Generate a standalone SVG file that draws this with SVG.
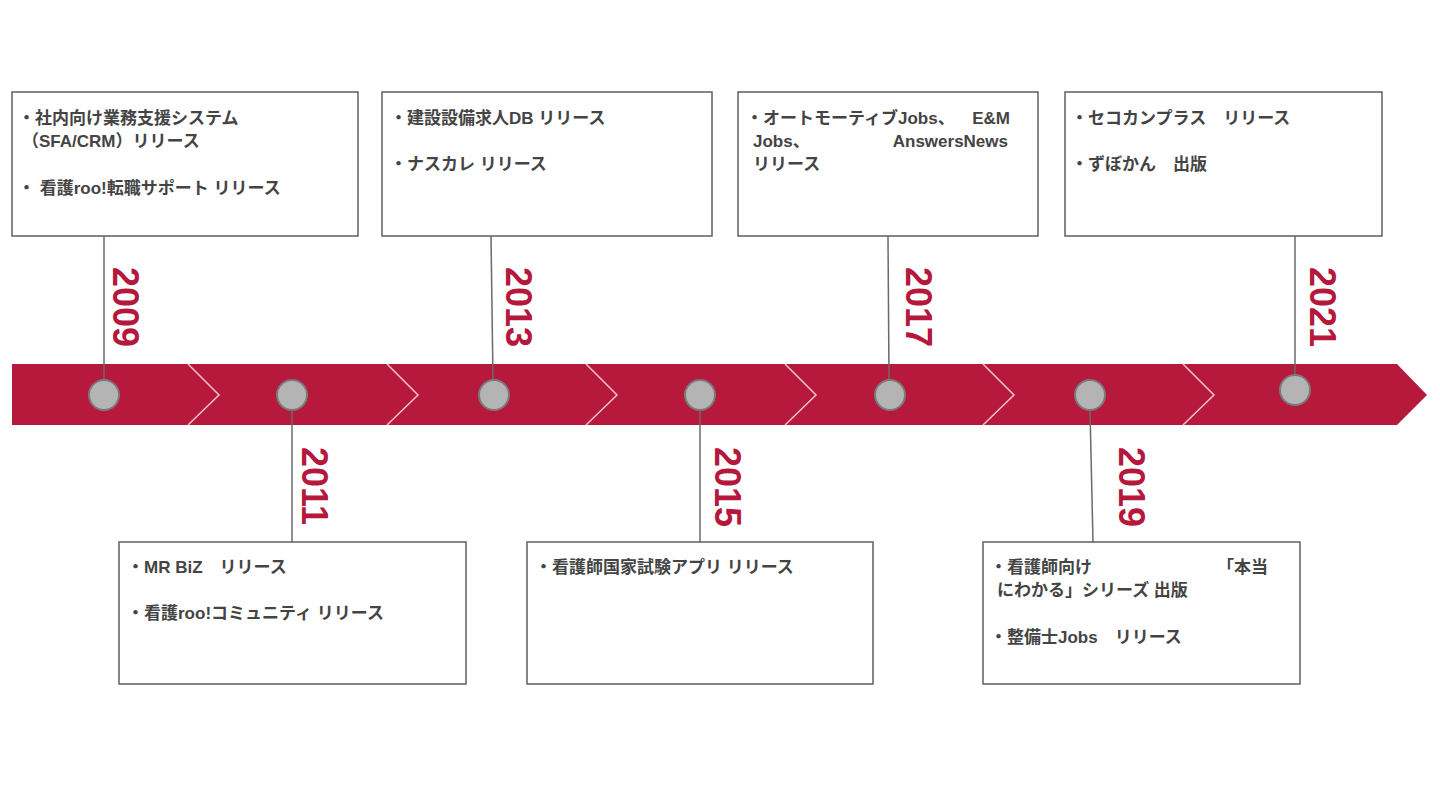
<svg xmlns="http://www.w3.org/2000/svg" width="1440" height="810" viewBox="0 0 1440 810">
<style>
.box{fill:#ffffff;stroke:#5f5f5f;stroke-width:1.5}
.t{font-family:"Liberation Sans","Noto Sans CJK JP",sans-serif;font-size:17px;font-weight:bold;fill:#444444}
.yr{font-family:"Liberation Sans",Arial,sans-serif;font-size:36px;font-weight:bold;fill:#b5173d}
.dot{fill:#b4b4b4;stroke:#7a7a7a;stroke-width:2}
.conn{stroke:#6a6a6a;stroke-width:1.5;fill:none}
.chev{stroke:#f3c4cd;stroke-width:1.5;fill:none}
</style>
<rect width="1440" height="810" fill="#ffffff"/>
<g id="band">
<polygon points="12,364 1397,364 1427,395 1397,425 12,425" fill="#b7193d"/>
<polyline class="chev" points="188,364 219,395 188,425"/>
<polyline class="chev" points="387,364 418,395 387,425"/>
<polyline class="chev" points="586,364 617,395 586,425"/>
<polyline class="chev" points="785,364 816,395 785,425"/>
<polyline class="chev" points="983,364 1014,395 983,425"/>
<polyline class="chev" points="1183,364 1214,395 1183,425"/>
</g>
<g id="connectors">
<line class="conn" x1="104" y1="236" x2="104" y2="380"/>
<line class="conn" x1="292" y1="410" x2="292" y2="542"/>
<line class="conn" x1="491" y1="236" x2="493" y2="380"/>
<line class="conn" x1="700" y1="410" x2="700" y2="542"/>
<line class="conn" x1="888" y1="236" x2="889" y2="380"/>
<line class="conn" x1="1090" y1="410" x2="1093" y2="542"/>
<line class="conn" x1="1295" y1="236" x2="1295" y2="375"/>
</g>
<g id="n2009">
<rect class="box" x="12" y="92" width="346" height="144"/>
<text class="t" x="18" y="124">・社内向け業務支援システム</text>
<text class="t" x="22" y="147">（SFA/CRM）リリース</text>
<text class="t" x="18" y="194">・ 看護roo!転職サポート リリース</text>
<circle class="dot" cx="104" cy="395" r="15"/>
<text class="yr" transform="translate(113,267) rotate(90)">2009</text>
</g>
<g id="n2011">
<rect class="box" x="119" y="542" width="347" height="142"/>
<text class="t" x="127" y="573">・MR BiZ　リリース</text>
<text class="t" x="127" y="619">・看護roo!コミュニティ リリース</text>
<circle class="dot" cx="292" cy="395" r="15"/>
<text class="yr" transform="translate(302,447) rotate(90)">2011</text>
</g>
<g id="n2013">
<rect class="box" x="382" y="92" width="330" height="144"/>
<text class="t" x="390" y="124">・建設設備求人DB リリース</text>
<text class="t" x="390" y="170">・ナスカレ リリース</text>
<circle class="dot" cx="494" cy="395" r="15"/>
<text class="yr" transform="translate(506,267) rotate(90)">2013</text>
</g>
<g id="n2015">
<rect class="box" x="527" y="542" width="346" height="142"/>
<text class="t" x="535" y="573">・看護師国家試験アプリ リリース</text>
<circle class="dot" cx="700" cy="395" r="15"/>
<text class="yr" transform="translate(715,447) rotate(90)">2015</text>
</g>
<g id="n2017">
<rect class="box" x="738" y="92" width="300" height="144"/>
<text class="t" x="746" y="124">・オートモーティブJobs、</text>
<text class="t" x="1010" y="124" text-anchor="end">E&amp;M</text>
<text class="t" x="753" y="147">Jobs、</text>
<text class="t" x="1008" y="147" text-anchor="end">AnswersNews</text>
<text class="t" x="753" y="170">リリース</text>
<circle class="dot" cx="890" cy="395" r="15"/>
<text class="yr" transform="translate(906,267) rotate(90)">2017</text>
</g>
<g id="n2019">
<rect class="box" x="983" y="542" width="317" height="142"/>
<text class="t" x="990" y="573">・看護師向け</text>
<text class="t" x="1268" y="573" text-anchor="end">「本当</text>
<text class="t" x="997" y="596">にわかる」シリーズ 出版</text>
<text class="t" x="990" y="643">・整備士Jobs　リリース</text>
<circle class="dot" cx="1090" cy="395" r="15"/>
<text class="yr" transform="translate(1119,447) rotate(90)">2019</text>
</g>
<g id="n2021">
<rect class="box" x="1065" y="92" width="317" height="144"/>
<text class="t" x="1071" y="124">・セコカンプラス　リリース</text>
<text class="t" x="1071" y="170">・ずぼかん　出版</text>
<circle class="dot" cx="1295" cy="390" r="15"/>
<text class="yr" transform="translate(1310,267) rotate(90)">2021</text>
</g>
</svg>
